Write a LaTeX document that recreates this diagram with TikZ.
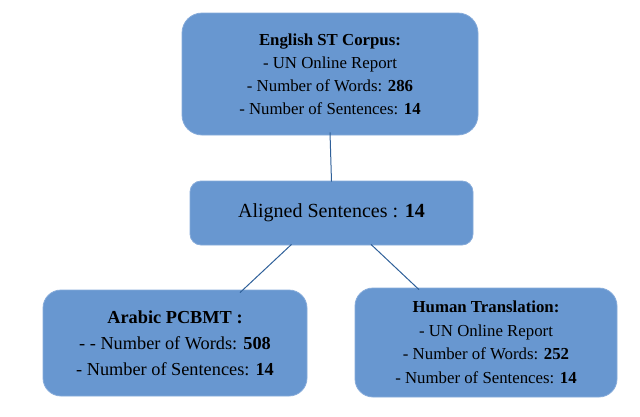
\documentclass[tikz,border=0pt]{standalone}
\usepackage{fontspec}
\setmainfont{Liberation Serif}
\usetikzlibrary{positioning}
\definecolor{boxfill}{HTML}{6897D0}
\definecolor{boxedge}{HTML}{86ABDA}
\definecolor{linkcol}{HTML}{2F6099}
\tikzset{
  infobox/.style={draw=boxedge, line width=0.8pt, fill=boxfill, align=center, inner sep=0pt, text=black},
  link/.style={draw=linkcol, line width=1pt}
}
\begin{document}
\begin{tikzpicture}[x=1pt,y=-1pt]
\useasboundingbox (0,0) rectangle (640,416);
\node[infobox, rounded corners=20pt, minimum width=296pt, minimum height=122pt,
      font=\fontsize{16.8}{23}\selectfont] (top) at (330,74)
  {\textbf{English ST Corpus:}\\- UN Online Report\\- Number of Words: \textbf{286}\\- Number of Sentences: \textbf{14}};
\node[infobox, rounded corners=11pt, minimum width=283pt, minimum height=64pt,
      font=\fontsize{20}{24}\selectfont] (mid) at (331.5,213)
  {Aligned Sentences : \textbf{14}};
\node[infobox, rounded corners=18pt, minimum width=264pt, minimum height=106pt,
      font=\fontsize{18.3}{26}\selectfont] (left) at (175,343)
  {\textbf{Arabic PCBMT :}\\- - Number of Words: \textbf{508}\\- Number of Sentences: \textbf{14}};
\node[infobox, rounded corners=18pt, minimum width=262pt, minimum height=109pt,
      font=\fontsize{16.8}{23.5}\selectfont] (right) at (486,342.5)
  {\textbf{Human Translation:}\\- UN Online Report\\- Number of Words: \textbf{252}\\- Number of Sentences: \textbf{14}};
\draw[link] ([yshift=3pt]top.south) -- ([yshift=-1pt]mid.north);
\draw[link] ([xshift=-40pt,yshift=1pt]mid.south) -- ([xshift=65pt,yshift=-3pt]left.north);
\draw[link] ([xshift=39.5pt,yshift=1pt]mid.south) -- ([xshift=-67pt,yshift=-2pt]right.north);
\end{tikzpicture}
\end{document}
